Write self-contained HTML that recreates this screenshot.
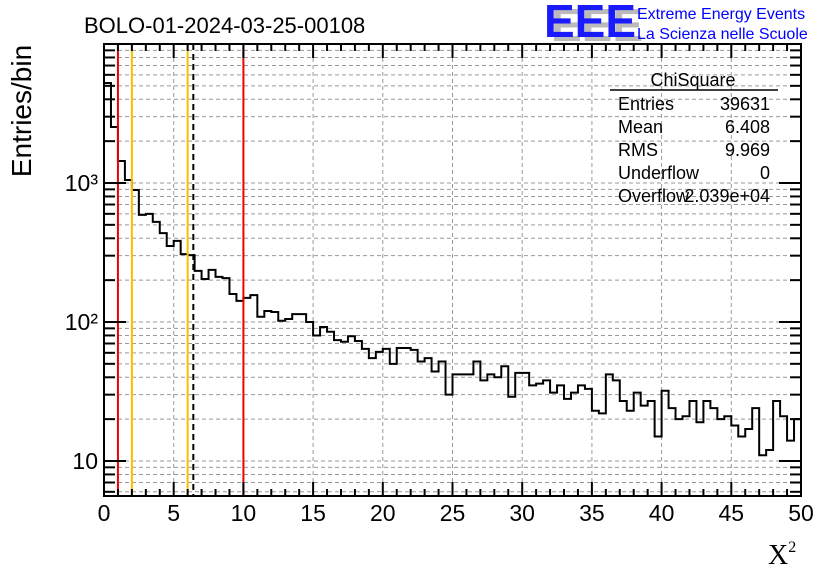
<!DOCTYPE html>
<html><head><meta charset="utf-8"><style>
body{margin:0;background:#fff}
svg{display:block;font-family:"Liberation Sans",sans-serif}
</style></head><body>
<svg id="chart" width="836" height="572" viewBox="0 0 836 572" xmlns="http://www.w3.org/2000/svg">
<rect width="836" height="572" fill="#fff"/>
<g id="grid"></g>
<g id="marks"></g>
<g id="axes"></g>
<text x="84" y="33" font-size="22">BOLO-01-2024-03-25-00108</text>
<g font-size="46" font-weight="bold">
<text x="551" y="41" fill="#bbb">EEE</text>
<text x="544" y="37" fill="#1a1aff">EEE</text>
</g>
<text x="637" y="19" font-size="16" fill="#0000ff">Extreme Energy Events</text>
<text x="637" y="39" font-size="16" fill="#0000ff">La Scienza nelle Scuole</text>
<text transform="translate(31,111) rotate(-90)" text-anchor="middle" font-size="28">Entries/bin</text>
<text x="768" y="564" font-size="28" font-family="Liberation Serif,serif">X<tspan font-size="16" dy="-12">2</tspan></text>
<g font-size="18">
<text x="693" y="86" text-anchor="middle">ChiSquare</text>
<line x1="610" y1="90" x2="778" y2="90" stroke="#000" stroke-width="1.5"/>
<text x="618" y="110">Entries</text><text x="770" y="110" text-anchor="end">39631</text>
<text x="618" y="133">Mean</text><text x="770" y="133" text-anchor="end">6.408</text>
<text x="618" y="156">RMS</text><text x="770" y="156" text-anchor="end">9.969</text>
<text x="618" y="179">Underflow</text><text x="770" y="179" text-anchor="end">0</text>
<text x="618" y="202">Overflow</text><text x="770" y="202" text-anchor="end">2.039e+04</text>
</g>
</svg>
<script>
const counts=[5240,2530,1440,1050,890,590,600,525,436,352,383,308,303,233,204,237,211,207,159,142,149,156,109,120,118,102,105,114,114,100,80,92,85,74,72,79,73,64,55,61,64,50,65,65,63,52,55,44,52,30,42,42,42,52,38,42,40,48,29,43,43,35,36,38,31,35,28,31,35,33,23,22,42,38,27,23,31,25,27,15,32,24,20,21,27,19,27,24,20,21,18,15,17,24,11,12,27,21,14,20];
const binWidth=[0.5];
const xTicks=[0,5,10,15,20,25,30,35,40,45,50];
const yTicks=[10,100,1000];
const yTickLabels=["10","10²","10³"];
const vLinesRed=[1,10];
const vLinesYellow=[2,6];
const meanLine=[6.408];
const NS="http://www.w3.org/2000/svg";
const L=104,R=801,T=44,B=496,xmin=0,xmax=50,lymin=0.748,lymax=4.0;
const X=v=>L+(v-xmin)/(xmax-xmin)*(R-L);
const Y=v=>B-(Math.log10(v)-lymin)/(lymax-lymin)*(B-T);
function mk(tag,attrs,parent){const e=document.createElementNS(NS,tag);for(const k in attrs)e.setAttribute(k,attrs[k]);parent.appendChild(e);return e;}
const grid=document.getElementById('grid'),marks=document.getElementById('marks'),axes=document.getElementById('axes');
xTicks.forEach(t=>{if(t>xmin&&t<xmax){const l=mk('line',{x1:X(t),x2:X(t),y1:T,y2:B,stroke:'#999','stroke-dasharray':'4,3'},grid);

}});
for(let d=0;d<=4;d++){for(let m=1;m<10;m++){const v=m*Math.pow(10,d);const lv=Math.log10(v);if(lv<=lymin||lv>=lymax)continue;
const l=mk('line',{x1:L,x2:R,y1:Y(v),y2:Y(v),stroke:'#999','stroke-dasharray':'4,3'},grid);


const w=m===1?22:11;
const a=mk('line',{x1:L,x2:L+w,y1:Y(v),y2:Y(v),stroke:'#000','stroke-width':2},axes);


const b=mk('line',{x1:R-w,x2:R,y1:Y(v),y2:Y(v),stroke:'#000','stroke-width':2},axes);

}}
let d='M'+X(0)+','+B;
counts.forEach((c,i)=>{const x0=X(i*binWidth[0]),x1=X((i+1)*binWidth[0]),y=Y(c);d+=' L'+x0+','+y+' L'+x1+','+y;});
d+=' L'+X(counts.length*binWidth[0])+','+B;
const h=mk('path',{d:d,fill:'none',stroke:'#000','stroke-width':2},marks);


vLinesRed.forEach(v=>{const l=mk('line',{x1:X(v),x2:X(v),y1:T,y2:B,stroke:'#e00','stroke-width':2},marks);

});
vLinesYellow.forEach(v=>{const l=mk('line',{x1:X(v),x2:X(v),y1:T,y2:B,stroke:'#f5c000','stroke-width':2},marks);

});
meanLine.forEach(v=>{const l=mk('line',{x1:X(v),x2:X(v),y1:T,y2:B,stroke:'#000','stroke-width':2,'stroke-dasharray':'6,4'},marks);

});
const f=mk('rect',{x:L,y:T,width:R-L,height:B-T,fill:'none',stroke:'#000','stroke-width':2},axes);


for(let t=xmin;t<=xmax;t++){const w=t%5===0?14:7;
const a=mk('line',{x1:X(t),x2:X(t),y1:B,y2:B-w,stroke:'#000','stroke-width':2},axes);


const b=mk('line',{x1:X(t),x2:X(t),y1:T,y2:T+w,stroke:'#000','stroke-width':2},axes);

}
xTicks.forEach(t=>{const e=mk('text',{x:X(t),y:521,'text-anchor':'middle','font-size':23},axes);e.textContent=t;

});
yTicks.forEach((t,i)=>{const e=mk('text',{x:98,y:Y(t)+8,'text-anchor':'end','font-size':23},axes);e.textContent=yTickLabels[i];

});
</script>
</body></html>
